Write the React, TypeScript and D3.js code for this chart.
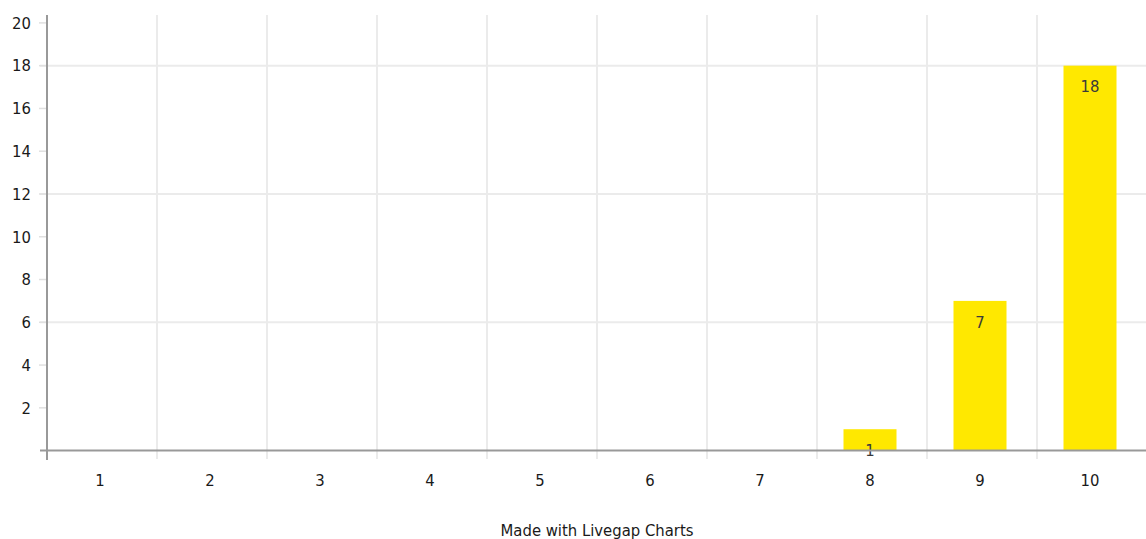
import React from "react";
import * as d3 from "d3";

const categories = ["1", "2", "3", "4", "5", "6", "7", "8", "9", "10"];
const values = [0, 0, 0, 0, 0, 0, 0, 1, 7, 18];
const yTicks = [2, 4, 6, 8, 10, 12, 14, 16, 18, 20];
const gridValues = [6, 12, 18];
const footer = "Made with Livegap Charts";

const W = 1146;
const H = 539;
const FONT = "'DejaVu Sans Condensed', 'Liberation Sans Narrow', 'Roboto', sans-serif";

export default function App() {
  const left = 47;
  const right = 1146;
  const top = 15;
  const x = d3.scaleBand<string>().domain(categories).range([left, right + 1]);
  const y = d3.scaleLinear().domain([0, 20]).range([450.6, 22.9]);
  const bw = 53;
  const off = -2;
  const boundaries = categories.map((c) => x(c)!).slice(1);
  const fs = 16.5;

  return (
    <svg width={W} height={H} style={{ position: "absolute", left: 0, top: 0, background: "#fff" }} fontFamily={FONT}>
      {gridValues.map((v) => (
        <line key={"g" + v} x1={40} x2={right} y1={y(v)} y2={y(v)} stroke="#ebebeb" strokeWidth={2} />
      ))}
      {boundaries.map((b, i) => (
        <line key={"v" + i} x1={b} x2={b} y1={top} y2={459} stroke="#ebebeb" strokeWidth={2} />
      ))}
      {yTicks.map((t) => (
        <g key={"t" + t}>
          <line x1={39} x2={46} y1={y(t)} y2={y(t)} stroke="#e0e0e0" strokeWidth={1.5} />
          <text x={31} y={y(t)} dy="0.35em" textAnchor="end" fontSize={fs} fill="#1a1a1a">
            {t}
          </text>
        </g>
      ))}
      {values.map((v, i) => {
        const cx = x(categories[i])! + x.bandwidth() / 2 + off;
        if (v <= 0) return null;
        return (
          <g key={"b" + i}>
            <rect x={cx - bw / 2} y={y(v)} width={bw} height={y(0) - y(v)} fill="#ffe800" />
            <text x={cx} y={y(v) + 21} dy="0.35em" textAnchor="middle" fontSize={fs} fill="#3a3a3a">
              {v}
            </text>
          </g>
        );
      })}
      <line x1={47} x2={47} y1={top} y2={460} stroke="#999" strokeWidth={2} />
      <line x1={40} x2={right} y1={y(0)} y2={y(0)} stroke="#999" strokeWidth={2} />
      {categories.map((c) => (
        <text key={"x" + c} x={x(c)! + x.bandwidth() / 2 + off} y={480} dy="0.35em" textAnchor="middle" fontSize={fs} fill="#1a1a1a">
          {c}
        </text>
      ))}
      <text x={597} y={530} dy="0.35em" textAnchor="middle" fontSize={fs} fill="#1a1a1a">
        {footer}
      </text>
    </svg>
  );
}
